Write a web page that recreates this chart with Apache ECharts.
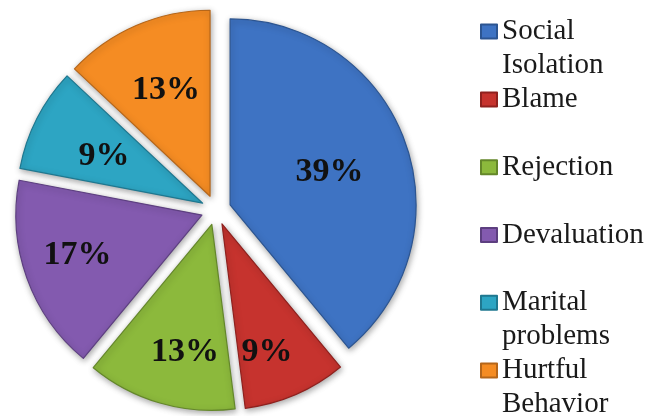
<!DOCTYPE html>
<html><head><meta charset="utf-8">
<script src="https://cdn.jsdelivr.net/npm/echarts@6/dist/echarts.min.js"></script>
<style>html,body{margin:0;padding:0;background:#fff}#c{width:652px;height:416px}</style>
</head><body><div id="c"></div>
<script>
const categories = ['Social Isolation', 'Blame', 'Rejection', 'Devaluation', 'Marital problems', 'Hurtful Behavior'];
const legendLabels = ['Social\nIsolation', 'Blame', 'Rejection', 'Devaluation', 'Marital\nproblems', 'Hurtful\nBehavior'];
const percentages = [39, 9, 13, 17, 9, 13];

const colors = ['#3e73c3', '#c6332e', '#8cb93c', '#835aaf', '#2da5c3', '#f58c23'];
const borders = ['#2c5591', '#8f211e', '#64872a', '#5d3f80', '#1f7890', '#b5661a'];
const labelShift = [[9, 0], [7, 40], [0, 36], [-34, 8], [-13, -3], [-6, -18]];
const legendLine = [0, 2, 4, 6, 8, 10];

const L = 33.9, firstLine = 31.6;
const chart = echarts.init(document.getElementById('c'), null, {renderer: 'canvas'});

const legends = categories.map((name, i) => {
  const lines = legendLabels[i].split('\n').length;
  const c = firstLine + legendLine[i] * L;
  // a blank leading line keeps the icon level with the first text line
  const text = lines > 1 ? ' \n' + legendLabels[i] : legendLabels[i];
  return {
    left: 480, top: c - (2 * lines - 1) * L / 2, padding: 0, orient: 'vertical',
    selectedMode: false, itemWidth: 16, itemHeight: 14, icon: 'rect',
    formatter: () => text,
    textStyle: {fontFamily: 'Liberation Serif', fontSize: 29, color: '#1a1a1a', lineHeight: L},
    data: [name]
  };
});

chart.setOption({
  animation: false,
  backgroundColor: '#ffffff',
  legend: legends,
  series: [{
    type: 'pie',
    center: [216, 210],
    radius: [0, 186],
    startAngle: 90,
    clockwise: true,
    avoidLabelOverlap: false,
    selectedMode: 'multiple',
    selectedOffset: 15,
    data: categories.map((n, i) => ({
      name: n, value: percentages[i], selected: true,
      itemStyle: {color: colors[i], borderColor: borders[i]}
    })),
    itemStyle: {borderWidth: 1.2, shadowBlur: 6, shadowColor: 'rgba(0,0,0,0.35)', shadowOffsetX: 1, shadowOffsetY: 2},
    label: {show: true, position: 'inside', formatter: '{c}%', fontFamily: 'Liberation Serif',
      fontWeight: 'bold', fontSize: 34, color: '#111111'},
    labelLayout: p => ({dx: labelShift[p.dataIndex][0], dy: labelShift[p.dataIndex][1]}),
    labelLine: {show: false},
    emphasis: {disabled: true}
  }]
});
</script>
</body></html>
